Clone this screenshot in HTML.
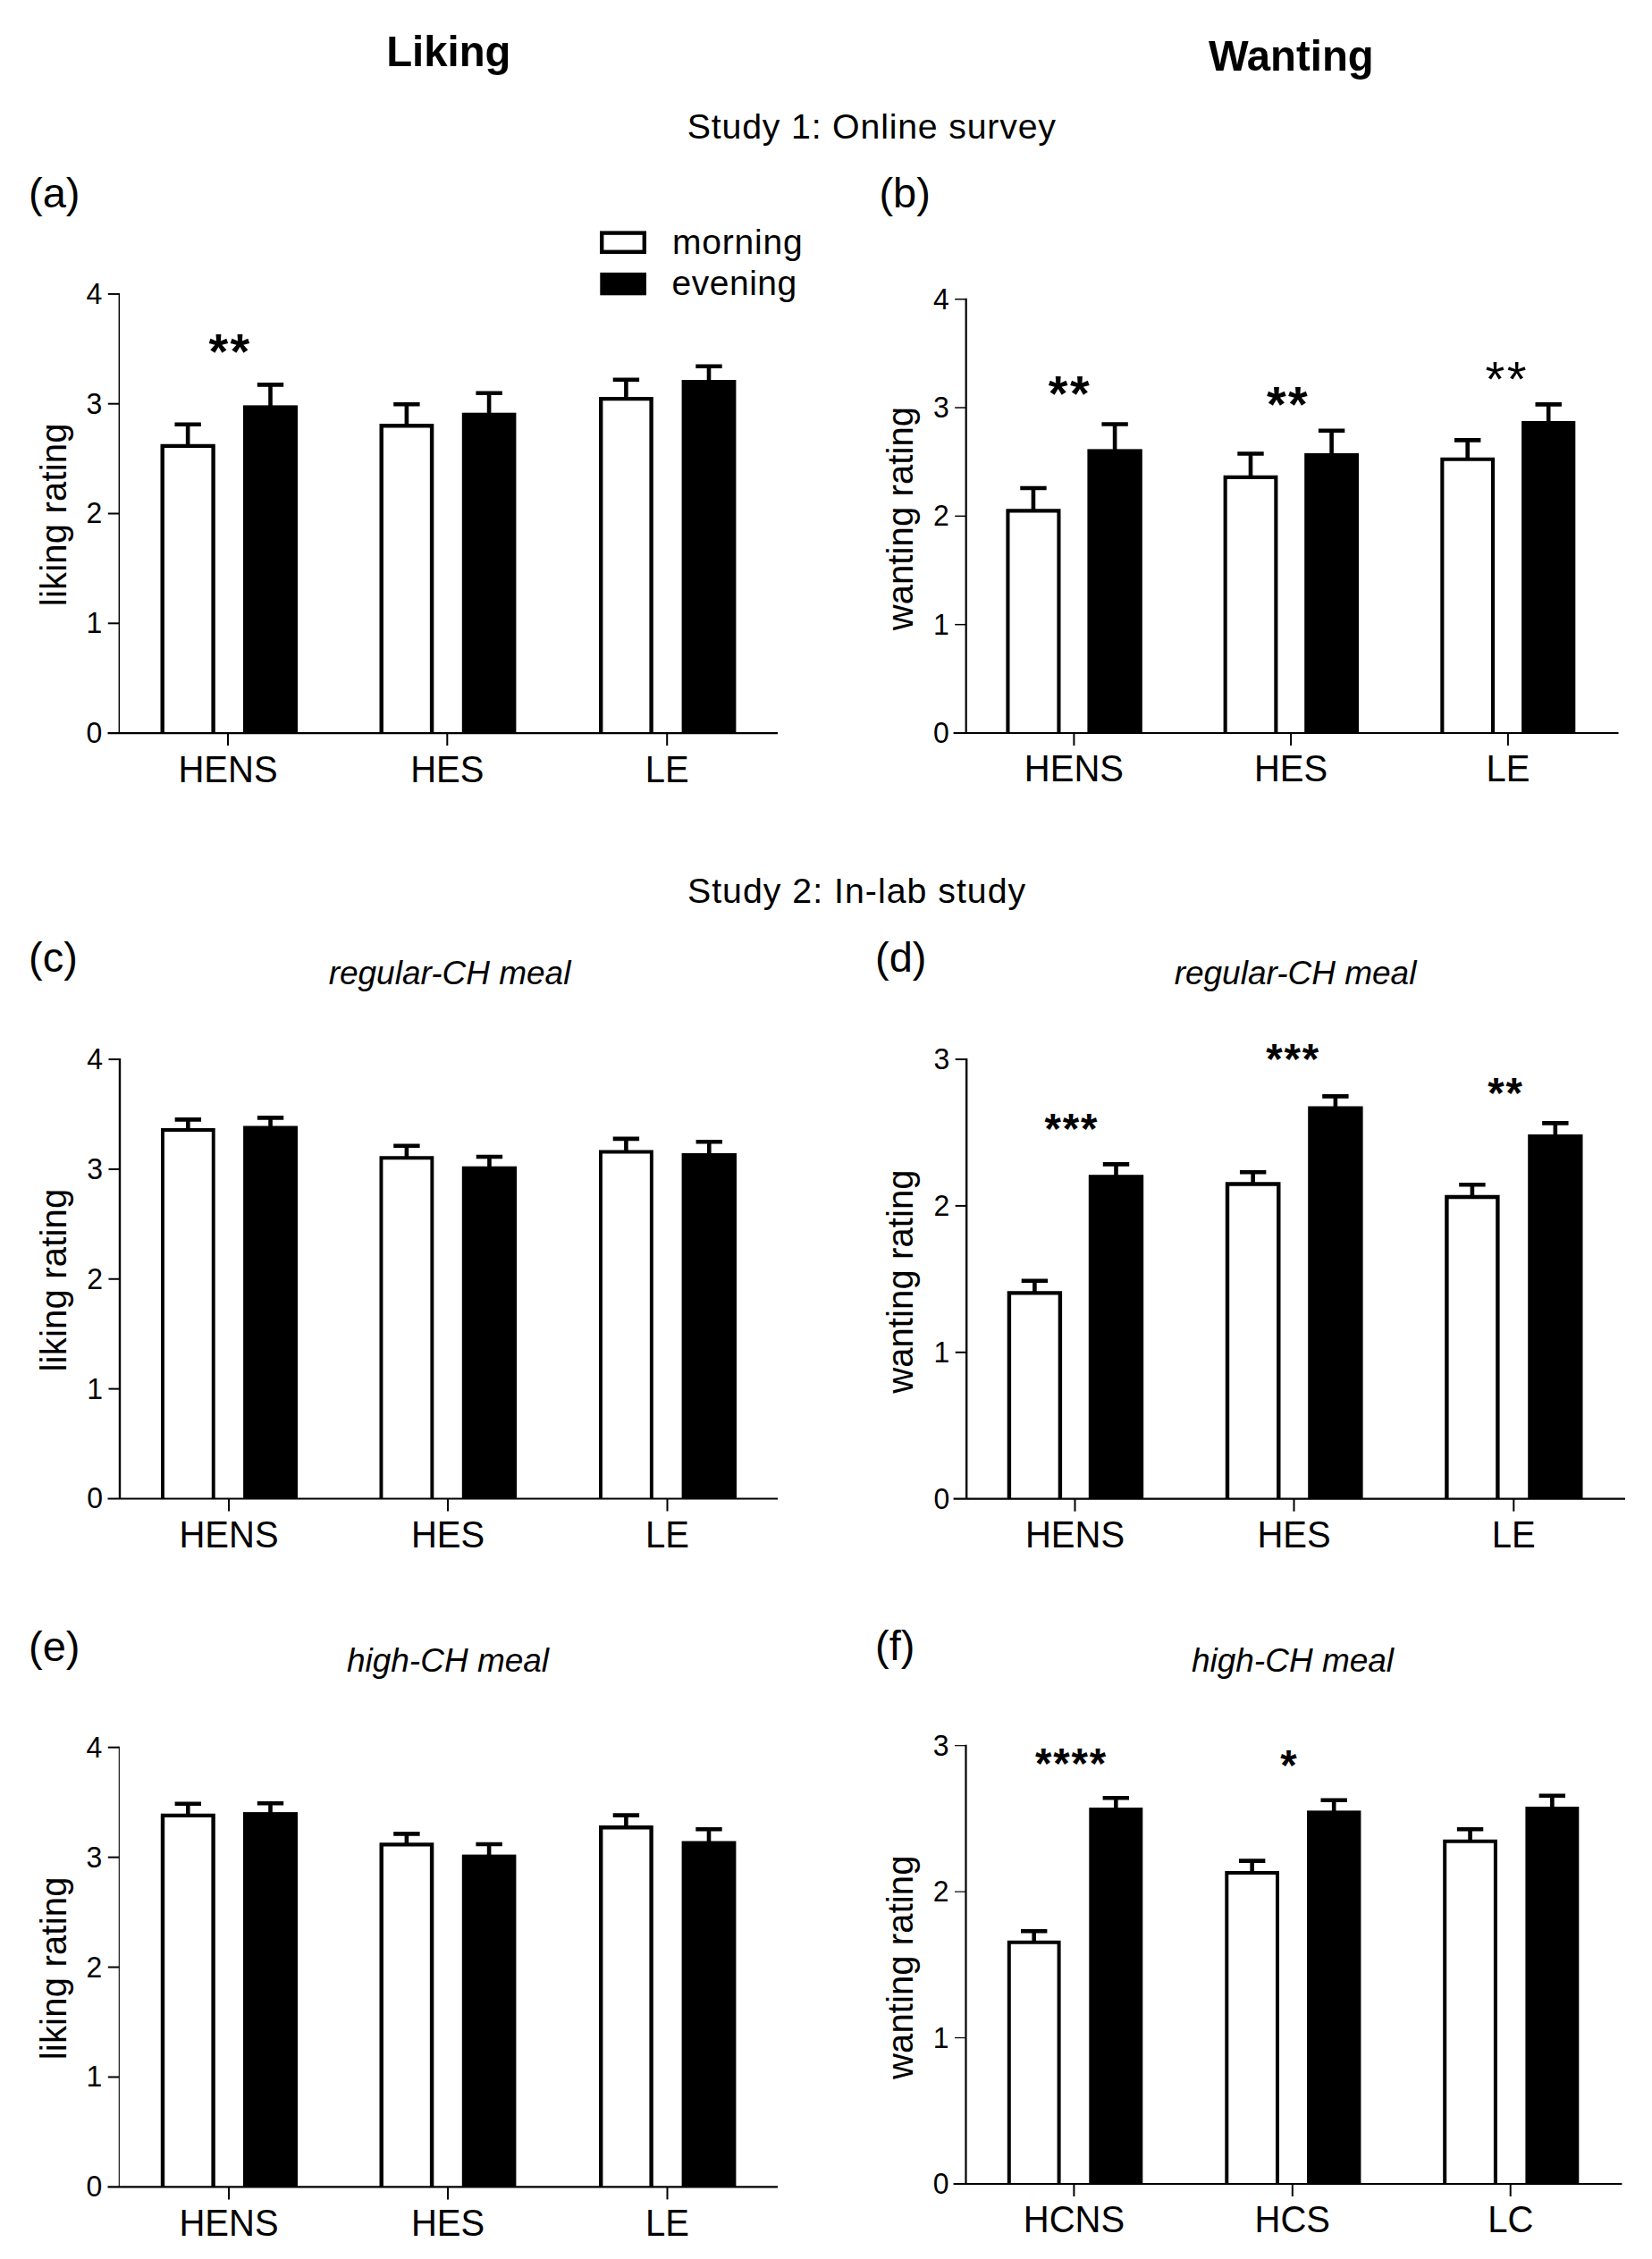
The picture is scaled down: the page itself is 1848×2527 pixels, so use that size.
<!DOCTYPE html>
<html><head><meta charset="utf-8"><title>Liking and Wanting</title>
<style>
html,body{margin:0;padding:0;background:#fff;}
svg{display:block;font-family:"Liberation Sans",sans-serif;fill:#000;}
</style></head>
<body>
<svg width="1848" height="2527" viewBox="0 0 1848 2527">
<rect width="1848" height="2527" fill="#fff"/>
<path d="M210.15 499.7V474.7M195.45000000000002 474.7H224.85" stroke="#000" stroke-width="4.6" fill="none"/>
<path d="M181.7 820.1V498.9H238.60000000000002V820.1" fill="#fff" stroke="#000" stroke-width="4.4"/>
<path d="M302.5 456.4V430.4M287.8 430.4H317.2" stroke="#000" stroke-width="4.6" fill="none"/>
<rect x="272" y="453.4" width="61" height="366.70000000000005" fill="#000"/>
<path d="M454.9 477.1V452.2M440.2 452.2H469.59999999999997" stroke="#000" stroke-width="4.6" fill="none"/>
<path d="M426.7 820.1V476.3H483.1V820.1" fill="#fff" stroke="#000" stroke-width="4.4"/>
<path d="M547.0999999999999 464.7V439.7M532.3999999999999 439.7H561.8" stroke="#000" stroke-width="4.6" fill="none"/>
<rect x="516.8" y="461.7" width="60.60000000000002" height="358.40000000000003" fill="#000"/>
<path d="M700.4 446.9V424.7M685.6999999999999 424.7H715.1" stroke="#000" stroke-width="4.6" fill="none"/>
<path d="M672.2 820.1V446.09999999999997H728.5999999999999V820.1" fill="#fff" stroke="#000" stroke-width="4.4"/>
<path d="M793.0 428V409.7M778.3 409.7H807.7" stroke="#000" stroke-width="4.6" fill="none"/>
<rect x="762.6" y="425" width="60.799999999999955" height="395.1" fill="#000"/>
<path d="M133.3 327.9V820.1" stroke="#000" stroke-width="1.4" fill="none"/>
<path d="M120.5 820.1H870" stroke="#000" stroke-width="2.2" fill="none"/>
<text transform="translate(114.30000000000001 831.0) scale(1 1.04)" font-size="32" text-anchor="end" font-weight="normal" font-style="normal">0</text>
<path d="M120.80000000000001 697.3H133.3" stroke="#000" stroke-width="2" fill="none"/>
<text transform="translate(114.30000000000001 708.2) scale(1 1.04)" font-size="32" text-anchor="end" font-weight="normal" font-style="normal">1</text>
<path d="M120.80000000000001 574.5H133.3" stroke="#000" stroke-width="2" fill="none"/>
<text transform="translate(114.30000000000001 585.4) scale(1 1.04)" font-size="32" text-anchor="end" font-weight="normal" font-style="normal">2</text>
<path d="M120.80000000000001 451.7H133.3" stroke="#000" stroke-width="2" fill="none"/>
<text transform="translate(114.30000000000001 462.6) scale(1 1.04)" font-size="32" text-anchor="end" font-weight="normal" font-style="normal">3</text>
<path d="M120.80000000000001 328.9H133.3" stroke="#000" stroke-width="2" fill="none"/>
<text transform="translate(114.30000000000001 339.8) scale(1 1.04)" font-size="32" text-anchor="end" font-weight="normal" font-style="normal">4</text>
<path d="M255 820.1V834.1" stroke="#000" stroke-width="2" fill="none"/>
<text transform="translate(255 874.5) scale(1 1.04)" font-size="40" text-anchor="middle" font-weight="normal" font-style="normal">HENS</text>
<path d="M500.3 820.1V834.1" stroke="#000" stroke-width="2" fill="none"/>
<text transform="translate(500.3 874.5) scale(1 1.04)" font-size="40" text-anchor="middle" font-weight="normal" font-style="normal">HES</text>
<path d="M746.2 820.1V834.1" stroke="#000" stroke-width="2" fill="none"/>
<text transform="translate(746.2 874.5) scale(1 1.04)" font-size="40" text-anchor="middle" font-weight="normal" font-style="normal">LE</text>
<text transform="translate(73.9 575.7) rotate(-90)" font-size="40" text-anchor="middle" letter-spacing="0.2">liking rating</text>
<text x="233.4" y="412.4" font-size="55.8" font-weight="bold" letter-spacing="2.5">**</text>
<path d="M1155.95 572.3V546M1141.25 546H1170.65" stroke="#000" stroke-width="4.6" fill="none"/>
<path d="M1127.45 820V571.3499999999999H1184.45V820" fill="#fff" stroke="#000" stroke-width="4.1"/>
<path d="M1247.1 505.4V474.5M1232.3999999999999 474.5H1261.8" stroke="#000" stroke-width="4.6" fill="none"/>
<rect x="1216.4" y="502.4" width="61.399999999999864" height="317.6" fill="#000"/>
<path d="M1399.0 534.8V507.5M1384.3 507.5H1413.7" stroke="#000" stroke-width="4.6" fill="none"/>
<path d="M1370.6499999999999 820V533.8499999999999H1427.3500000000001V820" fill="#fff" stroke="#000" stroke-width="4.1"/>
<path d="M1489.6 510V481.8M1474.8999999999999 481.8H1504.3" stroke="#000" stroke-width="4.6" fill="none"/>
<rect x="1459.2" y="507" width="60.799999999999955" height="313" fill="#000"/>
<path d="M1641.6999999999998 514.7V492.4M1626.9999999999998 492.4H1656.3999999999999" stroke="#000" stroke-width="4.6" fill="none"/>
<path d="M1613.35 820V513.75H1670.05V820" fill="#fff" stroke="#000" stroke-width="4.1"/>
<path d="M1732.1999999999998 474V452.4M1717.4999999999998 452.4H1746.8999999999999" stroke="#000" stroke-width="4.6" fill="none"/>
<rect x="1702.1" y="471" width="60.200000000000045" height="349" fill="#000"/>
<path d="M1080.7 333.7V820" stroke="#000" stroke-width="2.2" fill="none"/>
<path d="M1066.6 820H1810.5" stroke="#000" stroke-width="2.2" fill="none"/>
<text transform="translate(1061.7 830.9) scale(1 1.04)" font-size="32" text-anchor="end" font-weight="normal" font-style="normal">0</text>
<path d="M1068.2 698.675H1080.7" stroke="#000" stroke-width="1.5" fill="none"/>
<text transform="translate(1061.7 709.6) scale(1 1.04)" font-size="32" text-anchor="end" font-weight="normal" font-style="normal">1</text>
<path d="M1068.2 577.35H1080.7" stroke="#000" stroke-width="1.5" fill="none"/>
<text transform="translate(1061.7 588.2) scale(1 1.04)" font-size="32" text-anchor="end" font-weight="normal" font-style="normal">2</text>
<path d="M1068.2 456.025H1080.7" stroke="#000" stroke-width="1.5" fill="none"/>
<text transform="translate(1061.7 466.9) scale(1 1.04)" font-size="32" text-anchor="end" font-weight="normal" font-style="normal">3</text>
<path d="M1068.2 334.7H1080.7" stroke="#000" stroke-width="1.5" fill="none"/>
<text transform="translate(1061.7 345.6) scale(1 1.04)" font-size="32" text-anchor="end" font-weight="normal" font-style="normal">4</text>
<path d="M1201.4 820V834" stroke="#000" stroke-width="2" fill="none"/>
<text transform="translate(1201.4 874.4) scale(1 1.04)" font-size="40" text-anchor="middle" font-weight="normal" font-style="normal">HENS</text>
<path d="M1444.1 820V834" stroke="#000" stroke-width="2" fill="none"/>
<text transform="translate(1444.1 874.4) scale(1 1.04)" font-size="40" text-anchor="middle" font-weight="normal" font-style="normal">HES</text>
<path d="M1686.9 820V834" stroke="#000" stroke-width="2" fill="none"/>
<text transform="translate(1686.9 874.4) scale(1 1.04)" font-size="40" text-anchor="middle" font-weight="normal" font-style="normal">LE</text>
<text transform="translate(1020.6 580.1) rotate(-90)" font-size="40" text-anchor="middle" letter-spacing="0.1">wanting rating</text>
<text x="1172.7" y="459.0" font-size="55.8" font-weight="bold" letter-spacing="2.5">**</text>
<text x="1416.9" y="471.3" font-size="55.8" font-weight="bold" letter-spacing="2.5">**</text>
<text x="1661.5" y="442.6" font-size="56.0" font-weight="normal" letter-spacing="2.4">**</text>
<path d="M210.35 1265.1V1252.4M195.65 1252.4H225.04999999999998" stroke="#000" stroke-width="4.6" fill="none"/>
<path d="M181.95 1676.5V1264.05H238.75V1676.5" fill="#fff" stroke="#000" stroke-width="3.9"/>
<path d="M302.55 1262.5V1250.4M287.85 1250.4H317.25" stroke="#000" stroke-width="4.6" fill="none"/>
<rect x="272.1" y="1259.5" width="60.89999999999998" height="417.0" fill="#000"/>
<path d="M454.9 1296.3V1281.7M440.2 1281.7H469.59999999999997" stroke="#000" stroke-width="4.6" fill="none"/>
<path d="M426.45 1676.5V1295.25H483.35V1676.5" fill="#fff" stroke="#000" stroke-width="3.9"/>
<path d="M547.45 1307.7V1294M532.75 1294H562.1500000000001" stroke="#000" stroke-width="4.6" fill="none"/>
<rect x="516.8" y="1304.7" width="61.30000000000007" height="371.79999999999995" fill="#000"/>
<path d="M700.4 1289.6V1273.9M685.6999999999999 1273.9H715.1" stroke="#000" stroke-width="4.6" fill="none"/>
<path d="M671.95 1676.5V1288.55H728.8499999999999V1676.5" fill="#fff" stroke="#000" stroke-width="3.9"/>
<path d="M793.3 1293V1277.2M778.5999999999999 1277.2H808.0" stroke="#000" stroke-width="4.6" fill="none"/>
<rect x="762.6" y="1290" width="61.39999999999998" height="386.5" fill="#000"/>
<path d="M134 1184V1676.5" stroke="#000" stroke-width="2.4" fill="none"/>
<path d="M120.5 1676.5H870" stroke="#000" stroke-width="2.2" fill="none"/>
<text transform="translate(115 1687.4) scale(1 1.04)" font-size="32" text-anchor="end" font-weight="normal" font-style="normal">0</text>
<path d="M121.5 1553.625H134" stroke="#000" stroke-width="2" fill="none"/>
<text transform="translate(115 1564.5) scale(1 1.04)" font-size="32" text-anchor="end" font-weight="normal" font-style="normal">1</text>
<path d="M121.5 1430.75H134" stroke="#000" stroke-width="2" fill="none"/>
<text transform="translate(115 1441.7) scale(1 1.04)" font-size="32" text-anchor="end" font-weight="normal" font-style="normal">2</text>
<path d="M121.5 1307.875H134" stroke="#000" stroke-width="2" fill="none"/>
<text transform="translate(115 1318.8) scale(1 1.04)" font-size="32" text-anchor="end" font-weight="normal" font-style="normal">3</text>
<path d="M121.5 1185.0H134" stroke="#000" stroke-width="2" fill="none"/>
<text transform="translate(115 1195.9) scale(1 1.04)" font-size="32" text-anchor="end" font-weight="normal" font-style="normal">4</text>
<path d="M256 1676.5V1690.5" stroke="#000" stroke-width="2" fill="none"/>
<text transform="translate(256 1730.9) scale(1 1.04)" font-size="40" text-anchor="middle" font-weight="normal" font-style="normal">HENS</text>
<path d="M501 1676.5V1690.5" stroke="#000" stroke-width="2" fill="none"/>
<text transform="translate(501 1730.9) scale(1 1.04)" font-size="40" text-anchor="middle" font-weight="normal" font-style="normal">HES</text>
<path d="M746.5 1676.5V1690.5" stroke="#000" stroke-width="2" fill="none"/>
<text transform="translate(746.5 1730.9) scale(1 1.04)" font-size="40" text-anchor="middle" font-weight="normal" font-style="normal">LE</text>
<text transform="translate(73.9 1432.0) rotate(-90)" font-size="40" text-anchor="middle" letter-spacing="0.2">liking rating</text>
<path d="M1157.4 1447.2V1432.7M1142.7 1432.7H1172.1000000000001" stroke="#000" stroke-width="4.6" fill="none"/>
<path d="M1128.9 1676.7V1446.4H1185.8999999999999V1676.7" fill="#fff" stroke="#000" stroke-width="4.4"/>
<path d="M1248.5 1317.2V1302.4M1233.8 1302.4H1263.2" stroke="#000" stroke-width="4.6" fill="none"/>
<rect x="1217.8" y="1314.2" width="61.40000000000009" height="362.5" fill="#000"/>
<path d="M1401.65 1325.3V1311.3M1386.95 1311.3H1416.3500000000001" stroke="#000" stroke-width="4.6" fill="none"/>
<path d="M1373.0 1676.7V1324.5H1430.3V1676.7" fill="#fff" stroke="#000" stroke-width="4.4"/>
<path d="M1493.9 1240.5V1226.4M1479.2 1226.4H1508.6000000000001" stroke="#000" stroke-width="4.6" fill="none"/>
<rect x="1463.2" y="1237.5" width="61.399999999999864" height="439.20000000000005" fill="#000"/>
<path d="M1646.9 1339.8V1325.3M1632.2 1325.3H1661.6000000000001" stroke="#000" stroke-width="4.6" fill="none"/>
<path d="M1618.4 1676.7V1339.0H1675.3999999999999V1676.7" fill="#fff" stroke="#000" stroke-width="4.4"/>
<path d="M1739.85 1272V1256.4M1725.1499999999999 1256.4H1754.55" stroke="#000" stroke-width="4.6" fill="none"/>
<rect x="1709.2" y="1269" width="61.299999999999955" height="407.70000000000005" fill="#000"/>
<path d="M1081.2 1184V1676.7" stroke="#000" stroke-width="2.4" fill="none"/>
<path d="M1066.6 1676.7H1818" stroke="#000" stroke-width="2.2" fill="none"/>
<text transform="translate(1062.2 1687.6) scale(1 1.04)" font-size="32" text-anchor="end" font-weight="normal" font-style="normal">0</text>
<path d="M1068.7 1512.8H1081.2" stroke="#000" stroke-width="2" fill="none"/>
<text transform="translate(1062.2 1523.7) scale(1 1.04)" font-size="32" text-anchor="end" font-weight="normal" font-style="normal">1</text>
<path d="M1068.7 1348.9H1081.2" stroke="#000" stroke-width="2" fill="none"/>
<text transform="translate(1062.2 1359.8) scale(1 1.04)" font-size="32" text-anchor="end" font-weight="normal" font-style="normal">2</text>
<path d="M1068.7 1185.0H1081.2" stroke="#000" stroke-width="2" fill="none"/>
<text transform="translate(1062.2 1195.9) scale(1 1.04)" font-size="32" text-anchor="end" font-weight="normal" font-style="normal">3</text>
<path d="M1202.5 1676.7V1690.7" stroke="#000" stroke-width="2" fill="none"/>
<text transform="translate(1202.5 1731.1) scale(1 1.04)" font-size="40" text-anchor="middle" font-weight="normal" font-style="normal">HENS</text>
<path d="M1447.5 1676.7V1690.7" stroke="#000" stroke-width="2" fill="none"/>
<text transform="translate(1447.5 1731.1) scale(1 1.04)" font-size="40" text-anchor="middle" font-weight="normal" font-style="normal">HES</text>
<path d="M1693.3 1676.7V1690.7" stroke="#000" stroke-width="2" fill="none"/>
<text transform="translate(1693.3 1731.1) scale(1 1.04)" font-size="40" text-anchor="middle" font-weight="normal" font-style="normal">LE</text>
<text transform="translate(1020.6 1433.6) rotate(-90)" font-size="40" text-anchor="middle" letter-spacing="0.1">wanting rating</text>
<text x="1168.4" y="1278.7" font-size="47.3" font-weight="bold" letter-spacing="1.9">***</text>
<text x="1416.2" y="1201.3" font-size="47.3" font-weight="bold" letter-spacing="1.9">***</text>
<text x="1664.2" y="1239.4" font-size="47.3" font-weight="bold" letter-spacing="1.9">**</text>
<path d="M210.3 2031.7V2017.7M195.60000000000002 2017.7H225.0" stroke="#000" stroke-width="4.6" fill="none"/>
<path d="M182.0 2446.4V2030.9H238.60000000000002V2446.4" fill="#fff" stroke="#000" stroke-width="4.4"/>
<path d="M302.5 2030.1V2017.3M287.8 2017.3H317.2" stroke="#000" stroke-width="4.6" fill="none"/>
<rect x="272" y="2027.1" width="61" height="419.3000000000002" fill="#000"/>
<path d="M454.9 2064.2V2051.4M440.2 2051.4H469.59999999999997" stroke="#000" stroke-width="4.6" fill="none"/>
<path d="M426.7 2446.4V2063.3999999999996H483.1V2446.4" fill="#fff" stroke="#000" stroke-width="4.4"/>
<path d="M547.0999999999999 2077.6V2063M532.3999999999999 2063H561.8" stroke="#000" stroke-width="4.6" fill="none"/>
<rect x="516.8" y="2074.6" width="60.60000000000002" height="371.8000000000002" fill="#000"/>
<path d="M700.4 2045V2030.6M685.6999999999999 2030.6H715.1" stroke="#000" stroke-width="4.6" fill="none"/>
<path d="M672.2 2446.4V2044.2H728.5999999999999V2446.4" fill="#fff" stroke="#000" stroke-width="4.4"/>
<path d="M793.0 2062.5V2046.3M778.3 2046.3H807.7" stroke="#000" stroke-width="4.6" fill="none"/>
<rect x="762.6" y="2059.5" width="60.799999999999955" height="386.9000000000001" fill="#000"/>
<path d="M133.3 1953.7V2446.4" stroke="#000" stroke-width="1.1" fill="none"/>
<path d="M120.5 2446.4H870" stroke="#000" stroke-width="2.2" fill="none"/>
<text transform="translate(114.30000000000001 2457.3) scale(1 1.04)" font-size="32" text-anchor="end" font-weight="normal" font-style="normal">0</text>
<path d="M120.80000000000001 2323.475H133.3" stroke="#000" stroke-width="2" fill="none"/>
<text transform="translate(114.30000000000001 2334.4) scale(1 1.04)" font-size="32" text-anchor="end" font-weight="normal" font-style="normal">1</text>
<path d="M120.80000000000001 2200.55H133.3" stroke="#000" stroke-width="2" fill="none"/>
<text transform="translate(114.30000000000001 2211.5) scale(1 1.04)" font-size="32" text-anchor="end" font-weight="normal" font-style="normal">2</text>
<path d="M120.80000000000001 2077.625H133.3" stroke="#000" stroke-width="2" fill="none"/>
<text transform="translate(114.30000000000001 2088.5) scale(1 1.04)" font-size="32" text-anchor="end" font-weight="normal" font-style="normal">3</text>
<path d="M120.80000000000001 1954.7H133.3" stroke="#000" stroke-width="2" fill="none"/>
<text transform="translate(114.30000000000001 1965.6) scale(1 1.04)" font-size="32" text-anchor="end" font-weight="normal" font-style="normal">4</text>
<path d="M256 2446.4V2460.4" stroke="#000" stroke-width="2" fill="none"/>
<text transform="translate(256 2500.8) scale(1 1.04)" font-size="40" text-anchor="middle" font-weight="normal" font-style="normal">HENS</text>
<path d="M501 2446.4V2460.4" stroke="#000" stroke-width="2" fill="none"/>
<text transform="translate(501 2500.8) scale(1 1.04)" font-size="40" text-anchor="middle" font-weight="normal" font-style="normal">HES</text>
<path d="M746.5 2446.4V2460.4" stroke="#000" stroke-width="2" fill="none"/>
<text transform="translate(746.5 2500.8) scale(1 1.04)" font-size="40" text-anchor="middle" font-weight="normal" font-style="normal">LE</text>
<text transform="translate(73.9 2201.8) rotate(-90)" font-size="40" text-anchor="middle" letter-spacing="0.2">liking rating</text>
<path d="M1156.6999999999998 2173.7V2160.2M1141.9999999999998 2160.2H1171.3999999999999" stroke="#000" stroke-width="4.6" fill="none"/>
<path d="M1128.8 2443V2172.7H1184.6V2443" fill="#fff" stroke="#000" stroke-width="4.0"/>
<path d="M1248.3 2025.1V2011.3M1233.6 2011.3H1263.0" stroke="#000" stroke-width="4.6" fill="none"/>
<rect x="1218.3" y="2022.1" width="60.0" height="420.9000000000001" fill="#000"/>
<path d="M1400.65 2095.9V2081.6M1385.95 2081.6H1415.3500000000001" stroke="#000" stroke-width="4.6" fill="none"/>
<path d="M1372.3 2443V2094.9H1429.0V2443" fill="#fff" stroke="#000" stroke-width="4.0"/>
<path d="M1492.2 2028.4V2013.7M1477.5 2013.7H1506.9" stroke="#000" stroke-width="4.6" fill="none"/>
<rect x="1462" y="2025.4" width="60.40000000000009" height="417.5999999999999" fill="#000"/>
<path d="M1644.5500000000002 2060.7V2046.2M1629.8500000000001 2046.2H1659.2500000000002" stroke="#000" stroke-width="4.6" fill="none"/>
<path d="M1616.2 2443V2059.7H1672.9V2443" fill="#fff" stroke="#000" stroke-width="4.0"/>
<path d="M1736.35 2024V2008.7M1721.6499999999999 2008.7H1751.05" stroke="#000" stroke-width="4.6" fill="none"/>
<rect x="1706.4" y="2021" width="59.899999999999864" height="422" fill="#000"/>
<path d="M1080.5 1951.7V2443" stroke="#000" stroke-width="2.2" fill="none"/>
<path d="M1066.6 2443H1814.4" stroke="#000" stroke-width="2.2" fill="none"/>
<text transform="translate(1061.5 2453.9) scale(1 1.04)" font-size="32" text-anchor="end" font-weight="normal" font-style="normal">0</text>
<path d="M1068.0 2279.5666666666666H1080.5" stroke="#000" stroke-width="1.2" fill="none"/>
<text transform="translate(1061.5 2290.5) scale(1 1.04)" font-size="32" text-anchor="end" font-weight="normal" font-style="normal">1</text>
<path d="M1068.0 2116.133333333333H1080.5" stroke="#000" stroke-width="1.2" fill="none"/>
<text transform="translate(1061.5 2127.0) scale(1 1.04)" font-size="32" text-anchor="end" font-weight="normal" font-style="normal">2</text>
<path d="M1068.0 1952.7H1080.5" stroke="#000" stroke-width="1.2" fill="none"/>
<text transform="translate(1061.5 1963.6) scale(1 1.04)" font-size="32" text-anchor="end" font-weight="normal" font-style="normal">3</text>
<path d="M1201.4 2443V2457" stroke="#000" stroke-width="2" fill="none"/>
<text transform="translate(1201.4 2497.4) scale(1 1.04)" font-size="40" text-anchor="middle" font-weight="normal" font-style="normal">HCNS</text>
<path d="M1445.8 2443V2457" stroke="#000" stroke-width="2" fill="none"/>
<text transform="translate(1445.8 2497.4) scale(1 1.04)" font-size="40" text-anchor="middle" font-weight="normal" font-style="normal">HCS</text>
<path d="M1689.7 2443V2457" stroke="#000" stroke-width="2" fill="none"/>
<text transform="translate(1689.7 2497.4) scale(1 1.04)" font-size="40" text-anchor="middle" font-weight="normal" font-style="normal">LC</text>
<text transform="translate(1020.6 2200.7) rotate(-90)" font-size="40" text-anchor="middle" letter-spacing="0.1">wanting rating</text>
<text x="1157.9" y="1988.9" font-size="47.3" font-weight="bold" letter-spacing="1.9">****</text>
<text x="1432.2" y="1991.1" font-size="47.3" font-weight="bold" letter-spacing="1.9">*</text>
<text transform="translate(501.8 74.1) scale(1 1.03)" font-size="47.3" text-anchor="middle" font-weight="bold" font-style="normal">Liking</text>
<text transform="translate(1444.3 79.3) scale(1 1.03)" font-size="47.3" text-anchor="middle" font-weight="bold" font-style="normal">Wanting</text>
<text x="975.3" y="154.5" font-size="39.3" text-anchor="middle" font-weight="normal" font-style="normal" letter-spacing="0.8">Study 1: Online survey</text>
<text x="958.6" y="1010.4" font-size="39.3" text-anchor="middle" font-weight="normal" font-style="normal" letter-spacing="1.0">Study 2: In-lab study</text>
<text x="32" y="232" font-size="47" text-anchor="start" font-weight="normal" font-style="normal">(a)</text>
<text x="983.4" y="231.5" font-size="47" text-anchor="start" font-weight="normal" font-style="normal">(b)</text>
<text x="32" y="1086.5" font-size="47" text-anchor="start" font-weight="normal" font-style="normal">(c)</text>
<text x="979" y="1086.5" font-size="47" text-anchor="start" font-weight="normal" font-style="normal">(d)</text>
<text x="32" y="1858" font-size="47" text-anchor="start" font-weight="normal" font-style="normal">(e)</text>
<text x="979" y="1857.2" font-size="47" text-anchor="start" font-weight="normal" font-style="normal">(f)</text>
<text x="503" y="1101" font-size="37" text-anchor="middle" font-weight="normal" font-style="italic">regular-CH meal</text>
<text x="1449" y="1101" font-size="37" text-anchor="middle" font-weight="normal" font-style="italic">regular-CH meal</text>
<text x="501" y="1870" font-size="37" text-anchor="middle" font-weight="normal" font-style="italic">high-CH meal</text>
<text x="1446" y="1870" font-size="37" text-anchor="middle" font-weight="normal" font-style="italic">high-CH meal</text>
<rect x="673.2" y="260.6" width="47.6" height="21.2" fill="#fff" stroke="#000" stroke-width="4.4"/>
<rect x="671.3" y="304.9" width="51.7" height="25.4" fill="#000"/>
<text x="752" y="284.4" font-size="39" text-anchor="start" font-weight="normal" font-style="normal" letter-spacing="0.8">morning</text>
<text x="751.6" y="330.2" font-size="39" text-anchor="start" font-weight="normal" font-style="normal" letter-spacing="0.5">evening</text>
</svg>
</body></html>
